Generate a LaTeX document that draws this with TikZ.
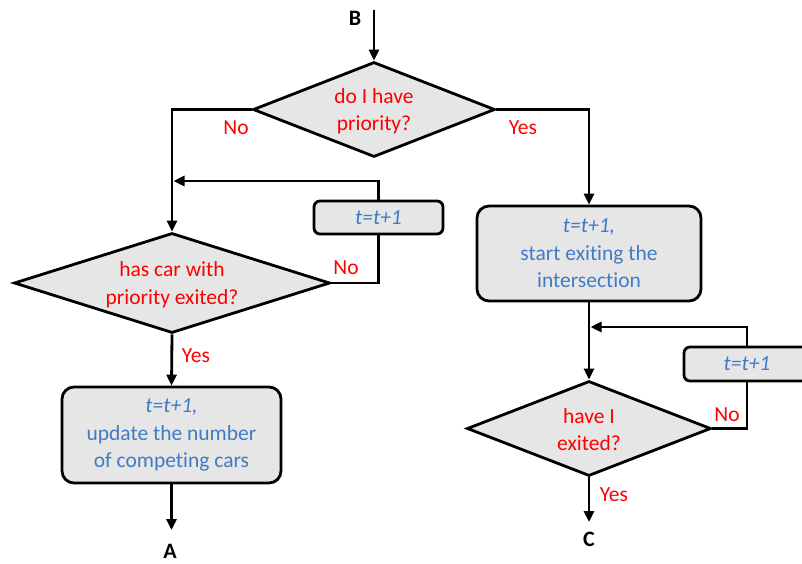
\documentclass[tikz,border=0pt]{standalone}
\usepackage{fontspec}
\setmainfont[Ligatures=NoCommon]{Carlito}
\usetikzlibrary{shapes.geometric,arrows.meta}
\definecolor{fillg}{HTML}{E6E6E6}
\definecolor{tblue}{HTML}{3F7CC4}
\definecolor{tred}{HTML}{FF0000}
\begin{document}
\begin{tikzpicture}[x=1pt,y=-1pt,
 every node/.style={font=\fontsize{21.5}{27.5}\selectfont},
 dec/.style={draw, line width=2.8pt, fill=fillg, shape=diamond, inner sep=0pt},
 dtext/.style={text=tred, align=center, inner sep=0pt},
 proc/.style={draw, line width=2.8pt, fill=fillg, text=tblue, align=center, inner sep=0pt},
 lab/.style={text=tred, inner sep=0pt},
 term/.style={font=\fontsize{22}{24}\selectfont\bfseries, inner sep=0pt},
 conn/.style={line width=2.8pt, -{Triangle[length=11pt,width=10pt]}},
 plain/.style={line width=2.8pt},
]
\useasboundingbox (0,0) rectangle (802,563);
% decisions
\node[dec, minimum width=242pt, minimum height=95pt] (d1) at (374,109.5) {};
\node[dtext, yshift=-2pt] (d1t) at (d1) {do I have\\priority?};
\node[dec, minimum width=316pt, minimum height=100pt] (d2) at (172,283) {};
\node[dtext, yshift=-2pt] (d2t) at (d2) {has car with\\priority exited?};
\node[dec, minimum width=244pt, minimum height=95pt] (d3) at (589,428.5) {};
\node[dtext, yshift=-1pt] (d3t) at (d3) {have I\\exited?};
% processes
\node[proc, rounded corners=12pt, minimum width=224pt, minimum height=95pt] (p2) at (589,253.5) {\itshape t=t+1,\\start exiting the\\intersection};
\node[proc, rounded corners=12pt, minimum width=219pt, minimum height=96pt] (p3) at (171.5,435) {\itshape t=t+1,\\update the number\\of competing cars};
\node[proc, rounded corners=6pt, minimum width=129pt, minimum height=33pt] (s1) at (378.5,217.5) {\itshape t=t+1};
\node[proc, rounded corners=6pt, minimum width=126pt, minimum height=34pt] (s2) at (747,364) {\itshape t=t+1};
% terminals
\node[term] (B) at (355,18) {B};
\node[term] (A) at (170,551) {A};
\node[term] (C) at (589,539) {C};
\coordinate (Bc) at (374,10);
\coordinate (Ac) at (171.5,530);
\coordinate (Cc) at (589,522);
\coordinate (j1) at (173.5,181);
\coordinate (j2) at (590.5,327);
% connectors
\draw[conn] (Bc) -- (d1.north);
\draw[conn] (d1.west) -| (d2.north);
\draw[conn] (d1.east) -| (p2.north);
\draw[plain] (d2.east) -| (s1.south);
\draw[conn] (s1.north) |- (j1);
\draw[conn] (d2.south) -- (p3.north);
\draw[conn] (p3.south) -- (Ac);
\draw[conn] (p2.south) -- (d3.north);
\draw[plain] (d3.east) -| (s2.south);
\draw[conn] (s2.north) |- (j2);
\draw[conn] (d3.south) -- (Cc);
% labels
\node[lab] (l1) at (236,128) {No};
\node[lab] (l2) at (523,128) {Yes};
\node[lab] (l3) at (346,268) {No};
\node[lab] (l4) at (196,356) {Yes};
\node[lab] (l5) at (727,415) {No};
\node[lab] (l6) at (614,495) {Yes};
\end{tikzpicture}
\end{document}
